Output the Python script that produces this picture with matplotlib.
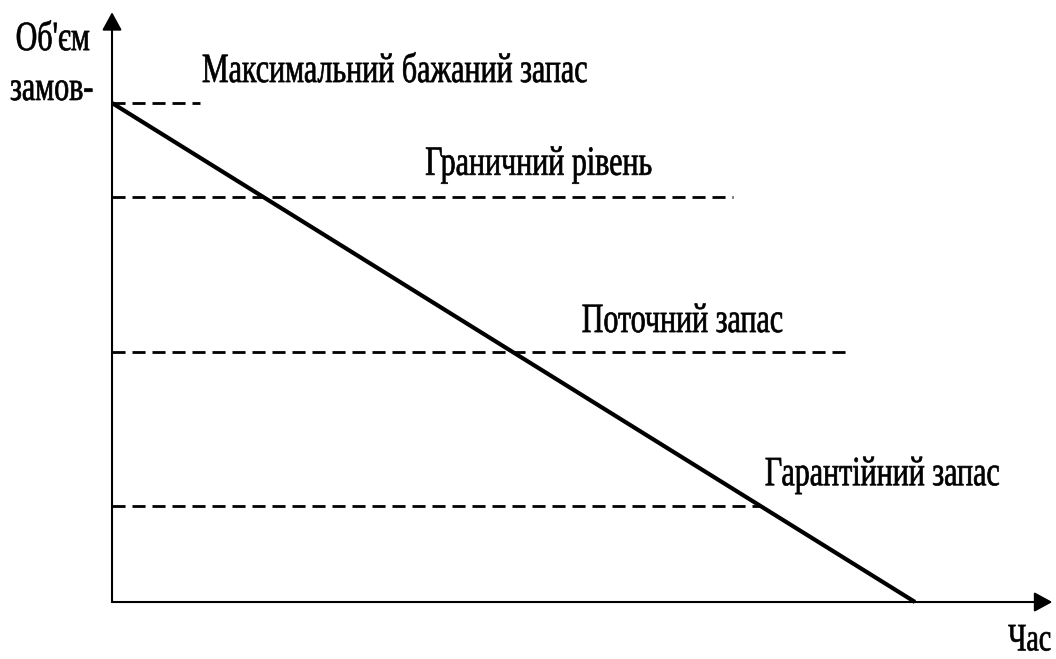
import matplotlib
matplotlib.use("Agg")
import matplotlib.pyplot as plt
import matplotlib.patheffects as pe
from matplotlib.transforms import Affine2D

# stock level scheme (time 0..10, volume 0..10)
t_start, t_end = 0, 10
v_max = 10
levels = [10, 8.12, 5.01, 1.92]
level_ends = [1.10, 7.73, 9.19, 8.07]
level_names = ["Максимальний бажаний запас", "Граничний рівень",
               "Поточний запас", "Гарантійний запас"]
label_pos = [(1.12, 10.42), (3.90, 8.56), (5.85, 5.41), (11.06, 2.34)]
label_ha = ['left', 'left', 'left', 'right']


class Narrow(pe.AbstractPathEffect):
    # squeeze glyphs horizontally (condensed serif look), about left or right edge
    def __init__(self, sx=0.72, about='left', stroke=0.5):
        super().__init__()
        self.sx = sx
        self.about = about
        self.stroke = stroke

    def draw_path(self, renderer, gc, tpath, affine, rgbFace=None):
        bb = tpath.get_extents(affine)
        if self.about == 'right':
            x0 = bb.x1
        else:
            x0 = affine.get_matrix()[0, 2]
        tr = affine + Affine2D().translate(-x0, 0).scale(self.sx, 1).translate(x0, 0)
        gc0 = renderer.new_gc()
        gc0.copy_properties(gc)
        gc0.set_linewidth(self.stroke)
        renderer.draw_path(gc0, tpath, tr, rgbFace)
        gc0.restore()


plt.rcParams['font.family'] = ['Liberation Serif', 'DejaVu Serif']
fs = 30

fig = plt.figure(figsize=(10.56, 6.59), dpi=100)
ax = fig.add_axes([0, 0, 1, 1])
ax.set_xlim(-1.395, 11.756)
ax.set_ylim(-1.142, 12.064)
ax.axis('off')

# axes with arrows
arr = dict(arrowstyle='-|>,head_length=0.55,head_width=0.3', mutation_scale=20,
           lw=1.5, color='k', shrinkA=0, shrinkB=0)
ax.annotate('', xy=(11.71, 0), xytext=(0, 0), arrowprops=arr)
ax.annotate('', xy=(0, 11.82), xytext=(0, 0), arrowprops=arr)

# dashed levels
for lv, end in zip(levels, level_ends):
    ax.plot([0, end], [lv, lv], color='k', lw=2, dashes=(4.7, 2.5),
            solid_capstyle='butt', dash_capstyle='butt')

# stock consumption line
ax.plot([t_start, t_end], [v_max, 0], color='k', lw=3, solid_capstyle='butt')

for name, (x, y), ha in zip(level_names, label_pos, label_ha):
    ax.text(x, y, name, fontsize=fs, ha=ha, va='baseline',
            path_effects=[Narrow(about=ha)])

ax.text(-1.20, 11.06, "Об'єм", fontsize=fs, ha='left', va='baseline',
        path_effects=[Narrow()])
ax.text(-1.27, 10.06, "замов-", fontsize=fs, ha='left', va='baseline',
        path_effects=[Narrow()])
ax.text(11.70, -0.97, "Час", fontsize=28, ha='right', va='baseline',
        path_effects=[Narrow(about='right')])

fig.savefig('out.png', dpi=100)
